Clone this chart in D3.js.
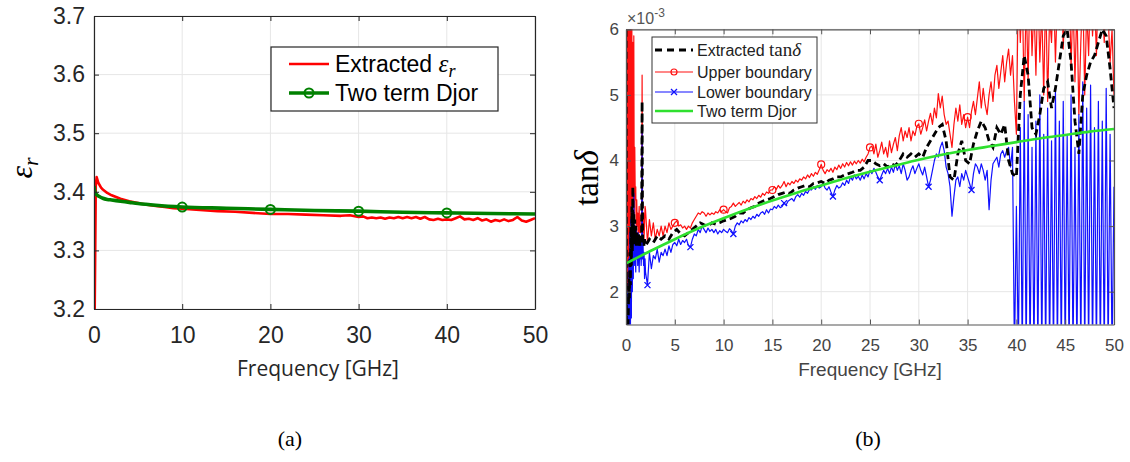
<!DOCTYPE html>
<html><head><meta charset="utf-8">
<script src="https://cdn.jsdelivr.net/npm/d3@7"></script>
<style>body{margin:0;background:#fff}svg{display:block}</style>
</head><body>
<svg id="chart" width="1130" height="462"></svg>
<script>
// ================= Panel (a) data =================
const xTicksA = [0, 10, 20, 30, 40, 50];
const yTicksA = [3.2, 3.3, 3.4, 3.5, 3.6, 3.7];
const freqEpsRed = [0.08,0.2,0.3,0.5,0.8,1,1.5,2,3,4,5,6,7,8,9,10,12,14,16,18,20,22,24,26,28,29,
  30,30.5,31,31.5,32,32.5,33,33.5,34,34.5,35,35.5,36,36.5,37,37.5,38,38.5,39,39.5,40,40.5,41,41.5,42,42.5,43,43.5,44,44.5,45,45.5,46,46.5,47,47.5,48,48.5,49,49.5,50];
const epsExtracted = [3.2,3.41,3.425,3.415,3.407,3.404,3.398,3.394,3.388,3.384,3.381,3.378,3.376,3.374,3.372,3.371,3.369,3.367,3.366,3.364,3.362,3.362,3.361,3.360,3.359,3.360,
  3.357,3.358,3.355,3.356,3.355,3.356,3.354,3.356,3.355,3.357,3.355,3.357,3.355,3.357,3.354,3.357,3.353,3.352,3.354,3.352,3.353,3.352,3.355,3.358,3.353,3.354,3.352,3.355,3.351,3.353,3.349,3.352,3.350,3.353,3.350,3.352,3.357,3.351,3.349,3.352,3.355];
const freqEpsDjor = [0,0.1,0.3,0.6,1,1.5,2,3,4,5,7,10,15,20,25,30,35,40,45,50];
const epsDjor = [3.41,3.40,3.395,3.392,3.389,3.387,3.386,3.384,3.382,3.380,3.377,3.374,3.372,3.370,3.368,3.367,3.365,3.364,3.363,3.362];
const epsDjorMarkerFreqs = [10, 20, 30, 40];

// ================= Panel (b) data (tan delta x 1e-3) =================
const xTicksB = [0,5,10,15,20,25,30,35,40,45,50];
const yTicksB = [2,3,4,5,6];
// 0 - 1.95 GHz, step 0.05 GHz
const upperLow = [6.5,1.2,6.8,1.5,6.5,2.0,6.9,2.5,6.6,3.0, 6.2,3.2,6.0,3.0,5.8,3.3,5.9,3.1,4.2,3.4,
  3.6,2.9,3.4,3.0,3.2,2.8,3.1,3.3,2.9,3.0, 2.9,3.2,3.0,5.3,3.1,2.9,3.2,2.8,3.0,3.3];
const lowerLow = [1.0,2.4,1.0,2.0,1.0,1.3,2.5,1.0,2.9,1.2, 3.1,1.6,3.3,2.0,3.1,2.2,3.5,2.4,3.0,2.6,
  2.3,3.0,2.5,2.8,2.4,2.9,2.6,2.3,2.7,2.5, 2.8,2.4,2.6,4.5,2.5,2.7,2.4,2.6,2.2,2.5];
const extractedLow = [7.0,1.0,1.2,1.0,1.4,1.8,2.2,1.9,2.6,2.1, 3.0,2.4,3.3,2.6,3.6,2.8,3.2,2.7,3.1,2.8,
  3.0,2.7,2.9,2.75,2.85,2.7,2.9,2.75,2.8,2.7, 2.85,2.75,2.9,4.9,2.8,2.75,2.8,2.7,2.8,2.75];
// 2 - 50 GHz, step 0.2 GHz
const upperMain = [
  3.25,2.75,3.1,2.85,3.05, 2.8,2.95,2.85,3.0,2.85, 3.0,2.9,3.05,2.95,3.0, 3.05,3.08,3.0,3.02,2.97,
  3.0,2.95,3.0,2.97,3.05, 3.1,3.15,3.2,3.18,3.22, 3.2,3.15,3.2,3.17,3.2, 3.18,3.22,3.2,3.25,3.22,
  3.25,3.22,3.2,3.28,3.3, 3.35,3.3,3.33,3.36,3.32, 3.38,3.35,3.4,3.37,3.42, 3.4,3.45,3.42,3.47,3.44,
  3.5,3.47,3.52,3.5,3.55, 3.55,3.6,3.56,3.62,3.58, 3.62,3.68,3.6,3.66,3.63, 3.68,3.65,3.7,3.67,3.72,
  3.7,3.75,3.72,3.78,3.74, 3.8,3.76,3.82,3.79,3.86, 3.94,3.85,3.8,3.86,3.83, 3.88,3.82,3.9,3.86,3.93,
  3.88,3.95,3.9,3.97,3.92, 3.98,3.93,3.99,3.95,4.0, 3.96,4.02,3.98,4.05,4.1, 4.2,4.22,4.1,4.25,4.05,
  4.15,4.28,4.1,4.2,4.05, 4.3,4.12,4.25,4.35,4.15, 4.38,4.5,4.3,4.45,4.35, 4.5,4.3,4.45,4.38,4.52,
  4.56,4.4,4.5,4.62,4.45, 4.6,4.72,4.55,4.8,4.65, 5.02,4.8,4.98,4.7,4.55, 4.6,4.4,4.2,4.55,4.8,
  4.6,4.85,4.55,4.7,4.5, 4.66,4.5,4.75,4.9,4.7, 4.95,5.2,4.8,5.1,4.85, 4.7,5.0,5.2,4.9,5.3,
  5.45,5.1,5.35,5.6,5.2, 5.5,5.7,5.3,5.6,4.9, 4.4,6.8,5.8,6.6,4.9, 6.5,5.2,6.8,5.6,6.4,
  5.3,6.7,5.5,6.3,5.0, 6.6,4.9,6.2,5.8,6.7, 5.5,6.5,6.0,6.9,5.7, 6.6,6.2,6.8,5.4,6.5,
  5.2,6.4,4.7,5.8,6.6, 5.0,6.3,5.6,6.7,5.9, 6.5,5.6,6.8,6.1,6.4, 5.8,6.6,6.2,5.5,6.0,
  5.0];
const lowerMain = [
  2.3,2.1,2.6,2.35,2.55, 2.5,2.65,2.45,2.6,2.55, 2.65,2.55,2.7,2.6,2.72, 2.75,2.7,2.8,2.72,2.78,
  2.75,2.8,2.7,2.68,2.8, 2.88,2.85,2.95,2.9,3.0, 2.95,2.9,2.97,2.92,2.95, 2.9,2.95,2.88,2.93,2.9,
  2.95,2.92,2.9,2.96,2.93, 2.88,3.0,3.05,3.02,3.08, 3.05,3.1,3.07,3.13,3.1, 3.15,3.12,3.18,3.15,3.2,
  3.22,3.18,3.25,3.2,3.26, 3.25,3.3,3.27,3.32,3.28, 3.3,3.35,3.32,3.38,3.4, 3.42,3.38,3.45,3.48,3.44,
  3.5,3.47,3.53,3.5,3.56, 3.55,3.6,3.56,3.62,3.58, 3.6,3.65,3.58,3.55,3.6, 3.52,3.45,3.55,3.62,3.58,
  3.6,3.66,3.62,3.7,3.65, 3.75,3.7,3.78,3.72,3.76, 3.7,3.78,3.72,3.8,3.75, 3.85,3.8,3.88,3.82,3.75,
  3.7,3.78,3.85,3.8,3.88, 3.8,3.9,3.82,3.95,3.85, 3.92,3.8,3.95,3.85,3.7, 3.75,3.85,3.92,3.8,3.88,
  3.95,3.85,3.78,3.9,3.75, 3.6,3.7,3.85,4.0,4.1, 4.05,4.2,4.28,4.15,3.9, 3.8,3.6,3.15,3.45,3.7,
  3.75,3.6,3.8,3.7,3.85, 3.75,3.65,3.55,3.8,3.95, 3.9,3.8,3.95,3.85,3.7, 3.85,3.25,3.7,3.95,4.0,
  4.05,3.9,4.1,4.15,4.05, 4.15,4.2,3.9,4.2,1.0, 3.3,1.0,4.5,1.0,4.9, 1.0,4.7,1.0,4.2,1.0,
  4.6,1.0,5.0,1.0,4.4, 1.0,4.8,1.0,4.3,1.0, 5.1,1.0,4.6,1.0,4.9, 1.0,4.4,1.0,5.0,1.0,
  4.2,1.0,4.7,1.0,5.2, 1.0,4.8,1.0,5.15,1.0, 4.5,1.0,4.9,1.0,4.6, 1.0,5.1,1.0,4.4,1.0,
  3.6];
// 2 - 50 GHz, step 0.4 GHz
const extractedMain = [
  2.7,2.8,2.75,2.85,2.8, 2.85,2.8,2.9,2.95,2.88, 2.85,2.9,2.95,3.0,3.05, 3.02,3.0,3.05,3.03,3.05,
  3.08,3.1,3.12,3.15,3.2, 3.2,3.25,3.28,3.3,3.35, 3.38,3.4,3.42,3.45,3.48, 3.5,3.52,3.5,3.55,3.58,
  3.6,3.62,3.6,3.65,3.66, 3.68,3.65,3.7,3.72,3.75, 3.75,3.78,3.8,3.82,3.85, 3.85,3.9,4.0,4.0,3.95,
  3.92,3.95,3.9,3.95,3.92, 4.0,4.1,4.05,4.1,4.05, 4.1,4.05,4.2,4.3,4.4, 4.5,4.55,4.3,3.75,3.7,
  4.1,4.3,4.0,3.95,4.25, 4.45,4.6,4.5,4.3,4.2, 4.5,4.4,4.55,4.0,3.8, 3.75,5.0,5.6,5.3,4.5,
  4.4,4.7,5.1,5.2,4.8, 5.1,5.5,5.9,6.0,5.5, 4.6,4.1,5.0,5.3,5.5, 5.6,5.8,6.0,5.9,5.4,
  4.8];
const freqDjorB = [0,2.5,5,7.5,10,12.5,15,17.5,20,22.5,25,27.5,30,32.5,35,37.5,40,42.5,45,47.5,50];
const tanDjor = [2.43,2.62,2.80,2.97,3.12,3.26,3.39,3.51,3.62,3.73,3.83,3.92,4.01,4.09,4.16,4.22,4.28,4.34,4.39,4.44,4.48];
const upperMarkerFreqs = [5,10,15,20,25,30,35];
const lowerMarkerFreqs = [2.2,6.6,11.0,16.2,21.2,26.0,31.0,35.4];

// sample grids
const freqLow = d3.range(upperLow.length).map(i => +(i*0.05).toFixed(2));
const freqMain = d3.range(upperMain.length).map(i => +(2 + i*0.2).toFixed(2));
const freqExtMain = d3.range(extractedMain.length).map(i => +(2 + i*0.4).toFixed(2));
const freqUpper = freqLow.concat(freqMain), upperAll = upperLow.concat(upperMain);
const freqLower = freqLow.concat(freqMain), lowerAll = lowerLow.concat(lowerMain);
const freqExt = freqLow.concat(freqExtMain), extAll = extractedLow.concat(extractedMain);

const zip = (a,b) => a.map((v,i)=>[v,b[i]]);
const valAt = (fs, vs, f) => vs[d3.leastIndex(fs, d => Math.abs(d-f))];
const SANS = "'Liberation Sans', Arial, sans-serif";
const SERIF = "'Liberation Serif', 'Times New Roman', serif";

const svg = d3.select('#chart');
svg.append('rect').attr('width',1130).attr('height',462).attr('fill','#fff');
const defs = svg.append('defs');

function frame(g, x, y, xt, yt, box, col, xfmt, yfmt, fs, padX, padY) {
  const gridCol = '#e6e6e6';
  g.append('g').selectAll('line').data(xt).join('line')
    .attr('x1',d=>x(d)).attr('x2',d=>x(d)).attr('y1',box.t).attr('y2',box.b)
    .attr('stroke',gridCol).attr('stroke-width',1);
  g.append('g').selectAll('line').data(yt).join('line')
    .attr('y1',d=>y(d)).attr('y2',d=>y(d)).attr('x1',box.l).attr('x2',box.r)
    .attr('stroke',gridCol).attr('stroke-width',1);
}
function axes(g, x, y, xt, yt, box, col, xfmt, yfmt, fs, padX, padY, lcol) {
  const style = s => {
    s.select('.domain').attr('stroke',col).attr('stroke-width',1.2);
    s.selectAll('.tick line').attr('stroke',col);
    s.selectAll('text').attr('font-family',SANS).attr('font-size',fs).attr('fill',lcol);
  };
  g.append('g').attr('transform',`translate(0,${box.b})`)
    .call(d3.axisBottom(x).tickValues(xt).tickSizeInner(-5).tickSizeOuter(0).tickPadding(padX).tickFormat(xfmt)).call(style);
  g.append('g').attr('transform',`translate(0,${box.t})`)
    .call(d3.axisTop(x).tickValues(xt).tickSizeInner(-5).tickSizeOuter(0).tickFormat('')).call(style);
  g.append('g').attr('transform',`translate(${box.l},0)`)
    .call(d3.axisLeft(y).tickValues(yt).tickSizeInner(-5).tickSizeOuter(0).tickPadding(padY).tickFormat(yfmt)).call(style);
  g.append('g').attr('transform',`translate(${box.r},0)`)
    .call(d3.axisRight(y).tickValues(yt).tickSizeInner(-5).tickSizeOuter(0).tickFormat('')).call(style);
}

// ================= Panel (a) =================
const pa = {l:94, r:535, t:16, b:309};
const xA = d3.scaleLinear().domain([0,50]).range([pa.l,pa.r]);
const yA = d3.scaleLinear().domain([3.2,3.7]).range([pa.b,pa.t]);
const gA = svg.append('g');
frame(gA, xA, yA, xTicksA, yTicksA, pa);
defs.append('clipPath').attr('id','clipA').append('rect')
  .attr('x',pa.l).attr('y',pa.t).attr('width',pa.r-pa.l).attr('height',pa.b-pa.t);
const lA = d3.line().x(d=>xA(d[0])).y(d=>yA(d[1]));
const plotA = gA.append('g').attr('clip-path','url(#clipA)');
plotA.append('path').attr('d', lA(zip(freqEpsRed, epsExtracted)))
  .attr('fill','none').attr('stroke','#ff0000').attr('stroke-width',2.6).attr('stroke-linejoin','round');
plotA.append('path').attr('d', lA.curve(d3.curveMonotoneX)(zip(freqEpsDjor, epsDjor)))
  .attr('fill','none').attr('stroke','#008000').attr('stroke-width',3.6);
plotA.append('g').selectAll('circle').data(epsDjorMarkerFreqs).join('circle')
  .attr('cx',d=>xA(d)).attr('cy',d=>yA(valAt(freqEpsDjor,epsDjor,d)))
  .attr('r',4.5).attr('fill','none').attr('stroke','#008000').attr('stroke-width',2);
axes(gA, xA, yA, xTicksA, yTicksA, pa, '#262626', d3.format('d'), d3.format('.1f'), 23, 18, 9, '#262626');
// legend (a)
const legA = gA.append('g');
legA.append('rect').attr('x',271).attr('y',47).attr('width',227).attr('height',64)
  .attr('fill','#fff').attr('stroke','#262626').attr('stroke-width',1.2);
legA.append('line').attr('x1',289).attr('x2',329).attr('y1',64).attr('y2',64).attr('stroke','#ff0000').attr('stroke-width',2.6);
legA.append('line').attr('x1',289).attr('x2',329).attr('y1',93).attr('y2',93).attr('stroke','#008000').attr('stroke-width',3.6);
legA.append('circle').attr('cx',309).attr('cy',93).attr('r',4.5).attr('fill','none').attr('stroke','#008000').attr('stroke-width',2);
const tA1 = legA.append('text').attr('x',335).attr('y',72).attr('font-family',SANS).attr('font-size',23).attr('fill','#000');
tA1.append('tspan').text('Extracted ');
tA1.append('tspan').attr('font-family',SERIF).attr('font-style','italic').attr('font-size',25).text('ε');
tA1.append('tspan').attr('font-family',SERIF).attr('font-style','italic').attr('font-size',18).attr('dy',5).text('r');
legA.append('text').attr('x',335).attr('y',101).attr('font-family',SANS).attr('font-size',23).attr('fill','#000').text('Two term Djor');
// labels (a)
gA.append('text').attr('x',318).attr('y',376).attr('text-anchor','middle')
  .attr('font-family',"'Open Sans', sans-serif").attr('font-size',21).attr('fill','#262626').text('Frequency [GHz]');
const yLabA = gA.append('text').attr('transform','translate(32,168) rotate(-90)').attr('text-anchor','middle')
  .attr('font-family',SERIF).attr('font-style','italic').attr('fill','#000');
yLabA.append('tspan').attr('font-size',32).text('ε');
yLabA.append('tspan').attr('font-size',22).attr('dy',6).text('r');

// ================= Panel (b) =================
const pb = {l:626, r:1114, t:29.3, b:324.5};
const xB = d3.scaleLinear().domain([0,50]).range([pb.l,pb.r]);
const yB = d3.scaleLinear().domain([1.5,6]).range([pb.b,pb.t]);
const gB = svg.append('g');
frame(gB, xB, yB, xTicksB, yTicksB, pb);
defs.append('clipPath').attr('id','clipB').append('rect')
  .attr('x',pb.l).attr('y',pb.t).attr('width',pb.r-pb.l).attr('height',pb.b-pb.t);
const lB = d3.line().x(d=>xB(d[0])).y(d=>yB(d[1]));
const plotB = gB.append('g').attr('clip-path','url(#clipB)');
plotB.append('path').attr('d', lB(zip(freqUpper, upperAll)))
  .attr('fill','none').attr('stroke','#ff1010').attr('stroke-width',1.2).attr('stroke-linejoin','round');
plotB.append('path').attr('d', lB(zip(freqLower, lowerAll)))
  .attr('fill','none').attr('stroke','#1010ff').attr('stroke-width',1.2).attr('stroke-linejoin','round');
plotB.append('path').attr('d', lB(zip(freqExt, extAll)))
  .attr('fill','none').attr('stroke','#000').attr('stroke-width',2.8).attr('stroke-dasharray','7,4');
plotB.append('g').selectAll('circle').data(upperMarkerFreqs).join('circle')
  .attr('cx',d=>xB(d)).attr('cy',d=>yB(valAt(freqMain,upperMain,d)))
  .attr('r',3.5).attr('fill','none').attr('stroke','#ff1010').attr('stroke-width',1.2);
plotB.append('g').selectAll('path').data(lowerMarkerFreqs).join('path')
  .attr('transform',d=>`translate(${xB(d)},${yB(valAt(freqMain,lowerMain,d))})`)
  .attr('d','M-3,-3L3,3M-3,3L3,-3').attr('stroke','#1010ff').attr('stroke-width',1.3);
plotB.append('path').attr('d', d3.line().x(d=>xB(d[0])).y(d=>yB(d[1])).curve(d3.curveMonotoneX)(zip(freqDjorB, tanDjor)))
  .attr('fill','none').attr('stroke','#2fe02f').attr('stroke-width',2.6);
axes(gB, xB, yB, xTicksB, yTicksB, pb, '#555', d3.format('d'), d3.format('d'), 17, 14, 7, '#444');
// exponent
const ex = gB.append('text').attr('x',627).attr('y',24).attr('font-family',SANS).attr('font-size',16).attr('fill','#555');
ex.append('tspan').text('×10');
ex.append('tspan').attr('font-size',12).attr('dy',-7).text('-3');
// legend (b)
const legB = gB.append('g');
legB.append('rect').attr('x',652).attr('y',37).attr('width',165).attr('height',86)
  .attr('fill','#fff').attr('stroke','#333').attr('stroke-width',1);
const ly = [50,72,92,111];
legB.append('line').attr('x1',655).attr('x2',693).attr('y1',ly[0]).attr('y2',ly[0]).attr('stroke','#000').attr('stroke-width',3).attr('stroke-dasharray','7,5');
legB.append('line').attr('x1',655).attr('x2',693).attr('y1',ly[1]).attr('y2',ly[1]).attr('stroke','#ff1010').attr('stroke-width',1.2);
legB.append('circle').attr('cx',674).attr('cy',ly[1]).attr('r',3).attr('fill','none').attr('stroke','#ff1010').attr('stroke-width',1.2);
legB.append('line').attr('x1',655).attr('x2',693).attr('y1',ly[2]).attr('y2',ly[2]).attr('stroke','#1010ff').attr('stroke-width',1.2);
legB.append('path').attr('transform',`translate(674,${ly[2]})`).attr('d','M-3,-3L3,3M-3,3L3,-3').attr('stroke','#1010ff').attr('stroke-width',1.3);
legB.append('line').attr('x1',655).attr('x2',693).attr('y1',ly[3]).attr('y2',ly[3]).attr('stroke','#2fe02f').attr('stroke-width',2.6);
const tB1 = legB.append('text').attr('x',697).attr('y',ly[0]+6).attr('font-family',SANS).attr('font-size',16).attr('fill','#222');
tB1.append('tspan').text('Extracted ');
tB1.append('tspan').attr('font-family',SERIF).attr('font-size',19).text('tan');
tB1.append('tspan').attr('font-family',SERIF).attr('font-style','italic').attr('font-size',19).text('δ');
['Upper boundary','Lower boundary','Two term Djor'].forEach((t,i)=>{
  legB.append('text').attr('x',697).attr('y',ly[i+1]+6).attr('font-family',SANS).attr('font-size',16).attr('fill','#222').text(t);
});
// labels (b)
gB.append('text').attr('x',870).attr('y',376).attr('text-anchor','middle')
  .attr('font-family',SANS).attr('font-size',19).attr('fill','#444').text('Frequency [GHz]');
const yLabB = gB.append('text').attr('transform','translate(598,178) rotate(-90)').attr('text-anchor','middle')
  .attr('font-family',SERIF).attr('font-size',33).attr('fill','#000');
yLabB.append('tspan').text('tan');
yLabB.append('tspan').attr('font-style','italic').text('δ');

// captions
svg.append('text').attr('x',290).attr('y',446).attr('text-anchor','middle').attr('font-family',SERIF).attr('font-size',22).attr('fill','#000').text('(a)');
svg.append('text').attr('x',868).attr('y',446).attr('text-anchor','middle').attr('font-family',SERIF).attr('font-size',22).attr('fill','#000').text('(b)');
</script>
</body></html>
